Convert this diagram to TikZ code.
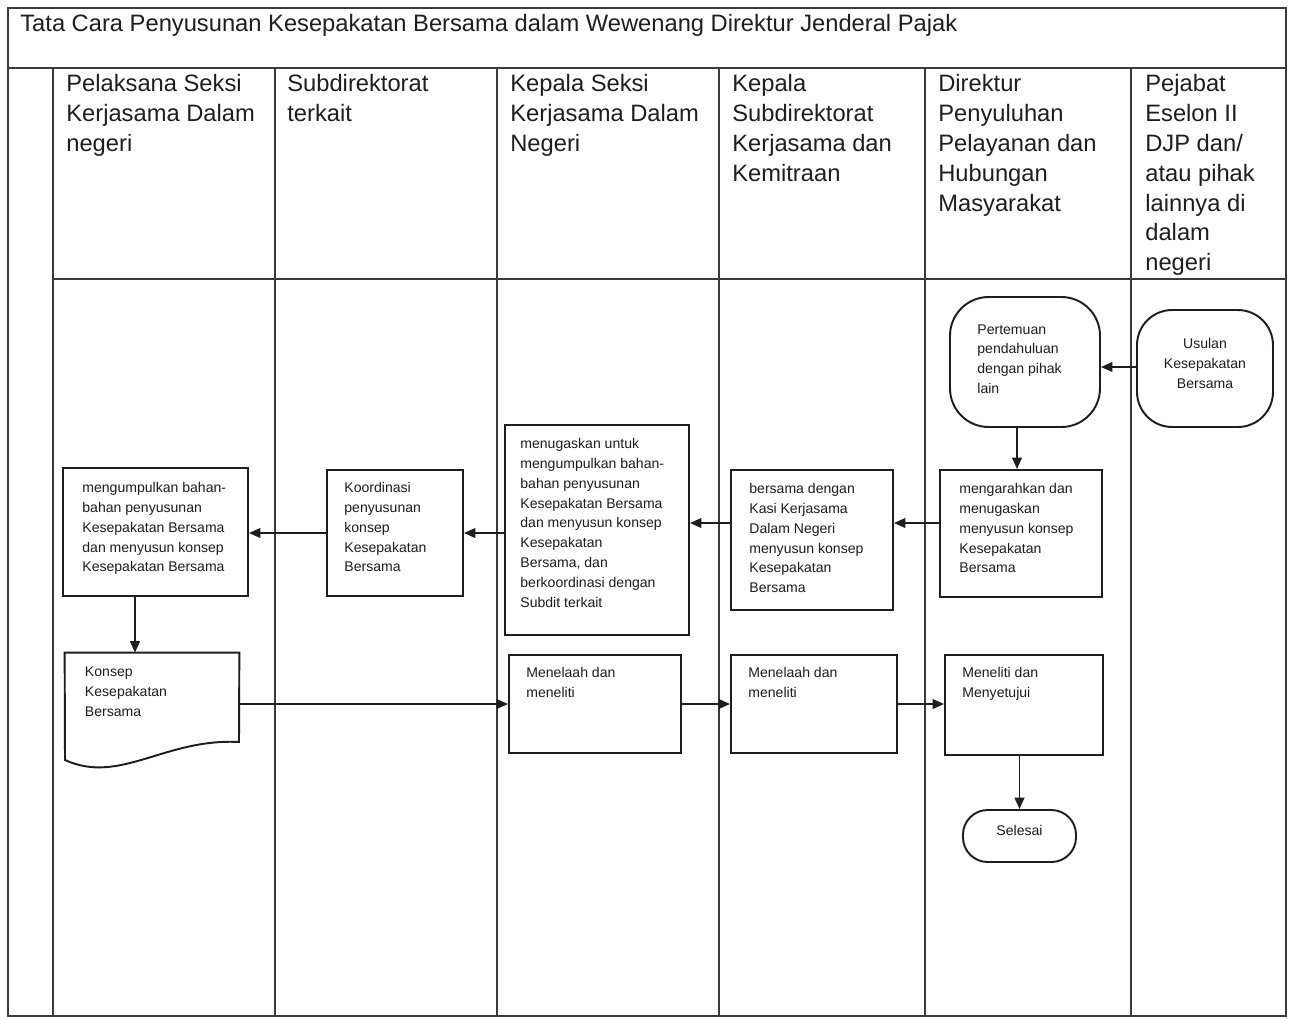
\documentclass[tikz,border=0pt]{standalone}
\usepackage{fontspec}
\setmainfont{Liberation Sans}
\usetikzlibrary{arrows.meta,fit}
\definecolor{ink}{HTML}{1E1E1E}
\definecolor{rulecol}{HTML}{3A3A3A}
\newcommand{\hdfont}{\fontsize{13.5}{17}\selectfont}
\newcommand{\smfont}{\fontsize{8}{11.3}\selectfont}

\begin{document}
\begin{tikzpicture}[x=0.02cm,y=-0.02cm,
  lane/.style={draw=rulecol, line width=0.9pt},
  procbox/.style={draw=ink, line width=1.1pt, inner sep=0pt},
  header/.style={anchor=north west, inner sep=0pt, align=left, font=\hdfont, text=ink},
  note/.style={anchor=north west, inner sep=0pt, align=left, font=\smfont, text=ink},
  flow/.style={draw=ink, line width=1.1pt, -{Triangle[length=6.5pt,width=5.5pt]}}]

\useasboundingbox (0,0) rectangle (1289,1019);
\fill[white] (0,0) rectangle (1289,1019);

% frame, title band and swimlanes
\draw[lane] (8,8) rectangle (1286,1016);
\draw[lane] (8,68) -- (1286,68);
\draw[lane] (53,279) -- (1286,279);
\foreach \lx in {53,275,497,719,925,1131}
  \draw[lane] (\lx,68) -- (\lx,1016);

\node[header] (title) at (20,14) {Tata Cara Penyusunan Kesepakatan Bersama dalam Wewenang Direktur Jenderal Pajak};

\node[header] (h1) at (66,74) {Pelaksana Seksi\\Kerjasama Dalam\\negeri};
\node[header] (h2) at (287,74) {Subdirektorat\\terkait};
\node[header] (h3) at (510,74) {Kepala Seksi\\Kerjasama Dalam\\Negeri};
\node[header] (h4) at (732,74) {Kepala\\Subdirektorat\\Kerjasama dan\\Kemitraan};
\node[header] (h5) at (938,74) {Direktur\\Penyuluhan\\Pelayanan dan\\Hubungan\\Masyarakat};
\node[header] (h6) at (1145,74) {Pejabat\\Eselon II\\DJP dan/\\atau pihak\\lainnya di\\dalam\\negeri};

% terminators
\node[procbox, rounded corners=20pt, fit={(1137,310) (1273,427)}, font=\smfont, text=ink, align=center] (usulan) {Usulan\\Kesepakatan\\Bersama};
\node[procbox, rounded corners=22pt, fit={(950,297) (1100,427)},
  label={[note, xshift=0.56cm, yshift=-0.56cm]north west:{Pertemuan\\pendahuluan\\dengan pihak\\lain}}] (temu) {};
\node[procbox, rounded corners=14pt, fit={(963,810) (1076,862)}, font=\smfont, text=ink] (selesai) {Selesai};

% process steps
\node[procbox, fit={(940,470) (1102,597)},
  label={[note, xshift=0.40cm, yshift=-0.28cm]north west:{mengarahkan dan\\menugaskan\\menyusun konsep\\Kesepakatan\\Bersama}}] (arah) {};
\node[procbox, fit={(731,470) (893,610)},
  label={[note, xshift=0.38cm, yshift=-0.28cm]north west:{bersama dengan\\Kasi Kerjasama\\Dalam Negeri\\menyusun konsep\\Kesepakatan\\Bersama}}] (bersama) {};
\node[procbox, fit={(505,425) (689,635)},
  label={[note, xshift=0.32cm, yshift=-0.28cm]north west:{menugaskan untuk\\mengumpulkan bahan-\\bahan penyusunan\\Kesepakatan Bersama\\dan menyusun konsep\\Kesepakatan\\Bersama, dan\\berkoordinasi dengan\\Subdit terkait}}] (tugas) {};
\node[procbox, fit={(327,470) (463,596)},
  label={[note, xshift=0.36cm, yshift=-0.26cm]north west:{Koordinasi\\penyusunan\\konsep\\Kesepakatan\\Bersama}}] (koord) {};
\node[procbox, fit={(63,468) (248,596)},
  label={[note, xshift=0.40cm, yshift=-0.30cm]north west:{mengumpulkan bahan-\\bahan penyusunan\\Kesepakatan Bersama\\dan menyusun konsep\\Kesepakatan Bersama}}] (kumpul) {};

% document
\node[inner sep=0pt, fit={(65,653) (239,765)},
  label={[note, xshift=0.40cm, yshift=-0.28cm]north west:{Konsep\\Kesepakatan\\Bersama}}] (konsep) {};
\draw[draw=ink, line width=1.1pt] (konsep.north west) -- (konsep.north east) -- (239,742)
  .. controls (165,738) and (120,785) .. (65,760) -- cycle;

\node[procbox, fit={(509,655) (681,753)},
  label={[note, xshift=0.36cm, yshift=-0.26cm]north west:{Menelaah dan\\meneliti}}] (telaah) {};
\node[procbox, fit={(731,655) (897,753)},
  label={[note, xshift=0.36cm, yshift=-0.26cm]north west:{Menelaah dan\\meneliti}}] (telaahb) {};
\node[procbox, fit={(945,655) (1103,755)},
  label={[note, xshift=0.36cm, yshift=-0.26cm]north west:{Meneliti dan\\Menyetujui}}] (teliti) {};

% connectors
\draw[flow] (usulan.west |- 0,367) -- (temu.east |- 0,367);
\draw[flow] (temu.south -| 1017,0) -- (arah.north -| 1017,0);
\draw[flow] (arah.west |- 0,523) -- (bersama.east |- 0,523);
\draw[flow] (bersama.west |- 0,523) -- (tugas.east |- 0,523);
\draw[flow] (tugas.west |- 0,533) -- (koord.east |- 0,533);
\draw[flow] (koord.west |- 0,533) -- (kumpul.east |- 0,533);
\draw[flow] (kumpul.south -| 135,0) -- (konsep.north -| 135,0);
\draw[flow] (konsep.east |- telaah.west) -- (telaah.west);
\draw[flow] (telaah.east) -- (telaahb.west);
\draw[flow] (telaahb.east) -- (telaahb.east -| teliti.west);
\draw[flow] (teliti.south -| selesai.north) -- (selesai.north);

\end{tikzpicture}
\end{document}
